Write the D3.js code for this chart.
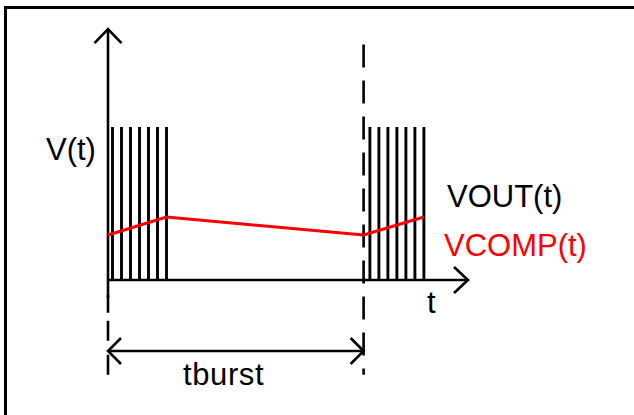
<!DOCTYPE html>
<html>
<head>
<meta charset="utf-8">
<script src="https://cdn.jsdelivr.net/npm/d3@7"></script>
<style>
  html, body { margin: 0; padding: 0; background: #fff; }
  svg { display: block; }
  text { font-family: "Liberation Sans", Arial, sans-serif; }
</style>
</head>
<body>
<div id="chart"></div>
<script>
// time in switching periods, voltage normalised to the pulse height
const burst1 = [0.5, 1.5, 2.5, 3.5, 4.5, 5.5, 6.5];
const burst2 = [29.1, 30.1, 31.1, 32.1, 33.1, 34.1, 35.1];
const pulseHigh = 1;
const vcompT = [0, 6.5, 28.4, 35.1];
const vcompV = [0.294, 0.412, 0.294, 0.412];
const tBurstStart = 0;
const tBurstEnd = 28.4;
const tMax = 40;
const vMax = 1.64;

const w = 634, h = 415;

const svg = d3.select("#chart").append("svg")
    .attr("width", w)
    .attr("height", h);

const x = d3.scaleLinear().domain([0, tMax]).range([108, 468]);
const y = d3.scaleLinear().domain([0, pulseHigh]).range([280, 127]);

// frame (only top and left edges show)
svg.append("path")
    .attr("d", "M5.5," + h + "V7.5H" + w)
    .attr("fill", "none").attr("stroke", "#000").attr("stroke-width", 3);

// VOUT pulses
svg.append("g").selectAll("line")
    .data(burst1.concat(burst2))
    .enter().append("line")
    .attr("x1", d => x(d)).attr("x2", d => x(d))
    .attr("y1", y(0)).attr("y2", y(pulseHigh))
    .attr("stroke", "#000").attr("stroke-width", 2.9);

// axes with open arrow heads
const ax = svg.append("g").attr("stroke", "#000").attr("stroke-width", 2.6).attr("fill", "none");
ax.append("line").attr("x1", x(0)).attr("x2", x(0)).attr("y1", y(-0.118)).attr("y2", y(vMax));
ax.append("path").attr("d", `M${x(0) - 13.5},${y(vMax) + 14}L${x(0)},${y(vMax)}L${x(0) + 13.5},${y(vMax) + 14}`);
ax.append("line").attr("x1", x(0)).attr("x2", x(tMax)).attr("y1", y(0)).attr("y2", y(0));
ax.append("path").attr("d", `M${x(tMax) - 14},${y(0) - 13}L${x(tMax)},${y(0)}L${x(tMax) - 14},${y(0) + 13}`);

// dashed burst markers
svg.append("line")
    .attr("x1", x(tBurstEnd)).attr("x2", x(tBurstEnd))
    .attr("y1", y(1.54)).attr("y2", y(-0.62))
    .attr("stroke", "#000").attr("stroke-width", 2.6)
    .attr("stroke-dasharray", "23,13");
svg.append("line")
    .attr("x1", x(tBurstStart)).attr("x2", x(tBurstStart))
    .attr("y1", y(-0.05)).attr("y2", y(-0.62))
    .attr("stroke", "#000").attr("stroke-width", 2.6)
    .attr("stroke-dasharray", "0,7,18,8,20,14,26");

// VCOMP
svg.append("path")
    .datum(vcompT.map((t, i) => [t, vcompV[i]]))
    .attr("d", d3.line().x(d => x(d[0])).y(d => y(d[1])))
    .attr("fill", "none").attr("stroke", "#ff0000").attr("stroke-width", 3);

// tburst dimension arrow
const ya = y(-0.464);
const dim = svg.append("g").attr("stroke", "#000").attr("stroke-width", 2.6).attr("fill", "none");
dim.append("line").attr("x1", x(tBurstStart)).attr("x2", x(tBurstEnd)).attr("y1", ya).attr("y2", ya);
dim.append("path").attr("d", `M${x(tBurstStart) + 13},${ya - 13}L${x(tBurstStart)},${ya}L${x(tBurstStart) + 13},${ya + 13}`);
dim.append("path").attr("d", `M${x(tBurstEnd) - 13},${ya - 13}L${x(tBurstEnd)},${ya}L${x(tBurstEnd) - 13},${ya + 13}`);

// labels
svg.append("text").attr("x", 46).attr("y", 160).attr("font-size", 31).text("V(t)");
svg.append("text").attr("x", 427).attr("y", 313).attr("font-size", 31).text("t");
svg.append("text").attr("x", 447).attr("y", 207).attr("font-size", 31).attr("fill", "#000").text("VOUT(t)");
svg.append("text").attr("x", 444).attr("y", 256).attr("font-size", 31).attr("fill", "#ff0000").text("VCOMP(t)");
svg.append("text").attr("x", 183).attr("y", 385).attr("font-size", 31).attr("letter-spacing", 0.6).text("tburst");
</script>
</body>
</html>
